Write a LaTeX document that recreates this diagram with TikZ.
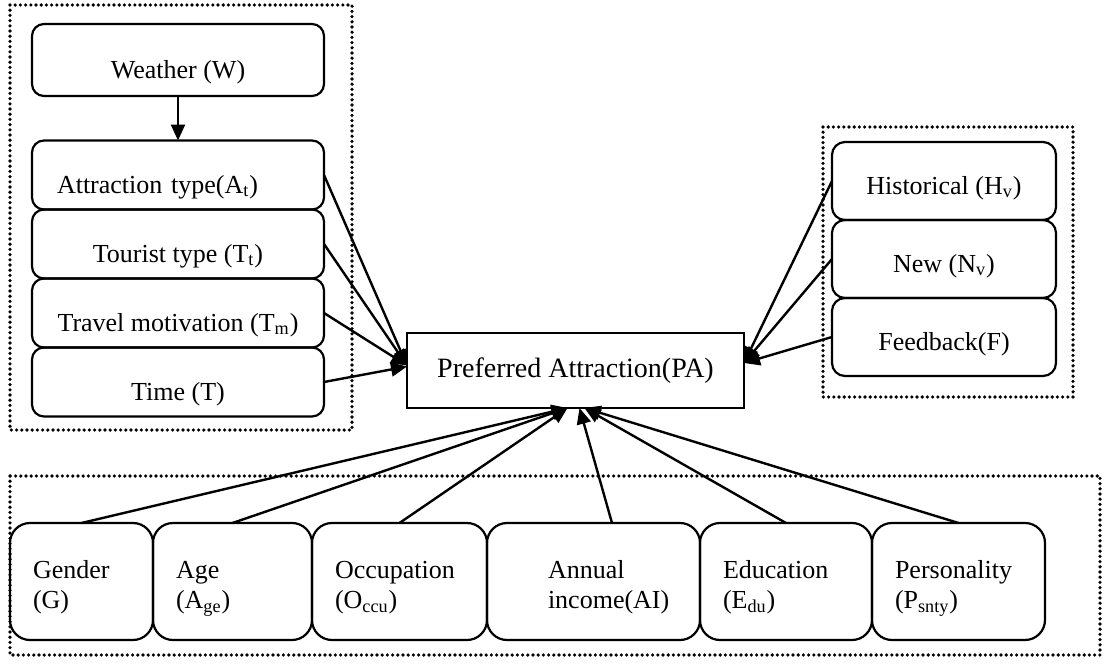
\documentclass[tikz,border=0pt]{standalone}
\usepackage{fontspec}
\setmainfont{Liberation Serif}
\usetikzlibrary{arrows.meta,positioning}

\begin{document}
\begin{tikzpicture}[x=0.5pt, y=-0.5pt,
	BoxStyle/.style = {shape=rectangle, rounded corners=6pt, draw, line width=1.1pt, outer sep=0pt, align=center, font=\fontsize{13pt}{15pt}\selectfont},
	LeftBox/.style = {BoxStyle, minimum width=146pt, minimum height=34.5pt, text height=18pt, text depth=0pt},
	RightBox/.style = {BoxStyle, rounded corners=6.5pt, minimum width=112pt, minimum height=39pt, text height=13pt, text depth=0pt},
	BottomBox/.style = {BoxStyle, rounded corners=10pt, align=left, inner xsep=11.5pt, text width=#1, minimum height=58.5pt, text height=9pt, text depth=12pt},
	Frame/.style = {line width=1.8pt, line cap=round, dash pattern=on 0pt off 2.6pt},
	Arrow/.style = {-{Triangle[length=8pt,width=7pt]}, line width=1.2pt}]
			\useasboundingbox (0,0) rectangle (1105,664);

			% left group
			\node[LeftBox, minimum height=36pt] (weather) at (178,60) {Weather (W)};
			\node[LeftBox, text width=121pt, inner xsep=12.5pt, align=left] (attr) at (178,175) {Attraction type(A\textsubscript{t})};
			\node[LeftBox, below=0pt of attr] (tourist) {Tourist type (T\textsubscript{t})};
			\node[LeftBox, below=0pt of tourist] (motiv) {Travel motivation (T\textsubscript{m})};
			\node[LeftBox, below=0pt of motiv] (time) {Time (T)};

			% right group
			\node[RightBox] (hist) at (944,181) {Historical (H\textsubscript{v})};
			\node[RightBox, below=0pt of hist] (new) {New (N\textsubscript{v})};
			\node[RightBox, below=0pt of new] (feed) {Feedback(F)};

			\node[draw, line width=1.3pt, outer sep=0pt, minimum width=168.5pt, minimum height=37.5pt, font=\fontsize{14pt}{16pt}\selectfont] (pa) at (575.5,370.5) {Preferred Attraction(PA)};

			% bottom group
			\node[BottomBox=48.5pt] (gender) at (81.5,581.5) {Gender\\(G)};
			\node[BottomBox=56.5pt, right=0pt of gender] (age) {Age\\(A\textsubscript{ge})};
			\node[BottomBox=64.5pt, right=0pt of age] (occu) {Occupation\\(O\textsubscript{ccu})};
			\node[BottomBox=83.5pt, right=0pt of occu] (income) {\hspace*{19pt}Annual\\\hspace*{19pt}income(AI)};
			\node[BottomBox=63pt, right=0pt of income] (edu) {Education\\(E\textsubscript{du})};
			\node[BottomBox=63.5pt, right=0pt of edu] (pers) {Personality\\(P\textsubscript{snty})};

			\draw[Frame] (10,5) rectangle (352,430);
			\draw[Frame] (823,127) rectangle (1073,397);
			\draw[Frame] (10,476) rectangle (1100,655);

			\path[Arrow]
				(weather) edge (attr)
				(attr.east) edge ([yshift=2.5pt]pa.west)
				(tourist.east) edge ([yshift=2.5pt]pa.west)
				(motiv.east) edge ([yshift=2.5pt]pa.west)
				(time.east) edge ([yshift=2pt]pa.west)
				(hist.west) edge ([yshift=3.75pt]pa.east)
				(new.west) edge ([yshift=3.75pt]pa.east)
				(feed.west) edge ([yshift=3.75pt]pa.east)
				(gender.north) edge ([xshift=-4pt]pa.south)
				(age.north) edge ([xshift=-4pt]pa.south)
				(occu.north) edge ([xshift=-4pt]pa.south)
				([xshift=9.25pt]income.north) edge ([xshift=2pt]pa.south)
				(edu.north) edge ([xshift=4.5pt]pa.south)
				(pers.north) edge ([xshift=4.5pt]pa.south)
			;
		\end{tikzpicture}
\end{document}
